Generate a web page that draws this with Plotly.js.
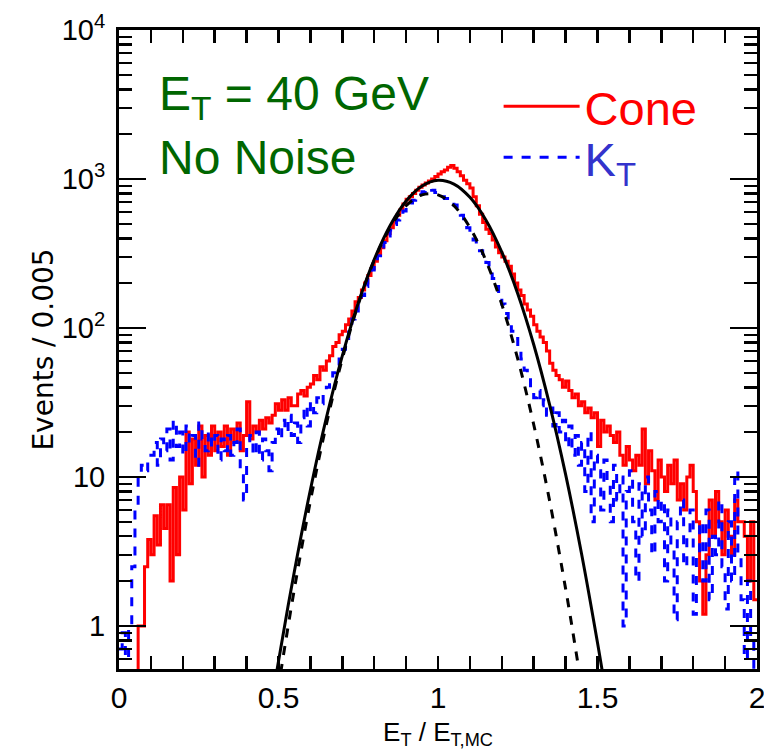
<!DOCTYPE html>
<html>
<head>
<meta charset="utf-8">
<script src="https://cdn.plot.ly/plotly-3.0.1.min.js"></script>
<style>html,body{margin:0;padding:0;background:#fff;}#chart{width:764px;height:754px;}</style>
</head>
<body>
<div id="chart"></div>
<script>
// Histogram bins: left edges from 0 to 1.99 in steps of 0.01 (E_T / E_T,MC)
var binWidth = 0.01;
// Cone algorithm (red) events per bin
var coneCounts = [
0.1,0.1,0.1,0.1,0.1,0.1,1.0,1.0,2.5,3.8,
3.0,5.5,3.5,6.5,4.5,6.5,2.0,8.5,3.0,10,
6,20,9,18,12,22,10,19,14,22,
15,20,16,22,14,21,17,23,15,19,
32,18,22,20,24,21,25,23,26,31,
28,33,28,34,30,30,36,38,35,40,
42,48,45,55,52,60,65,75,80,90,
95,105,115,130,150,160,180,200,225,250,
280,315,345,385,430,470,520,570,620,680,
730,760,800,840,880,910,940,970,1000,1040,
1080,1120,1150,1200,1230,1180,1120,1050,980,930,
870,760,660,580,510,460,430,390,350,320,
300,280,260,230,200,180,165,145,132,120,
105,95,87,80,70,58,52,48,45,40,
44,38,34,36,30,32,27,29,25,27,
16,24,20,22,19,17,20,14,12,16,
13,11,14,12,21,9,15,11,7,13,
10,8,12,9,13,7,9,6,10,12,
8,5,2,1.2,3,7,4,8,5,3,
6,4,3,7,5,5,4,2,5,1.5
];
// Kt algorithm (blue) events per bin
var ktCounts = [
0.7,0.9,0.6,1.0,2.5,6,10,12,11,13,
14,17,12,18,15,21,13,24,16,20,
14,22,17,19,12,23,18,15,20,16,
19,13,18,15,19,14,17,21,11,7,
16,19,14,20,13,18,15,11,17,21,
18,24,20,26,19,23,17,25,30,22,
32,27,34,31,36,40,45,50,56,62,
72,85,100,115,130,145,165,190,215,245,
275,305,340,375,415,455,495,530,570,610,
650,690,720,760,790,820,850,860,840,810,
790,760,740,720,700,670,620,570,520,470,
420,390,360,330,300,275,250,215,190,165,
145,125,110,95,85,75,62,52,45,40,
34,38,30,33,26,29,22,27,20,24,
16,22,14,19,12,17,8,20,5,14,
11,6,13,9,5,12,7,10,1.0,8,
11,5,2,9,4,10,6,3,8,5,
7,2,6,3.5,1.1,5,7,2.5,4,6,
1.2,3,5,2,6,1.5,4,3,7,2.5,
1.3,5,2,11,3,1.5,0.6,2,0.8,0.5
];
// Fit curves
var fitConeX = [0.48,0.50,0.55,0.60,0.65,0.70,0.75,0.80,0.85,0.90,0.95,1.00,1.05,1.10,1.15,1.20,1.25,1.30,1.35,1.40,1.45,1.50,1.53];
var fitConeY = [0.317,0.58,2.34,8.2,24.9,65,147,288,487,711,897,980,924,753,531,323,170,77.5,30.5,10.4,3.05,0.77,0.317];
var fitKtX = [0.49,0.50,0.52,0.55,0.60,0.65,0.70,0.75,0.80,0.85,0.90,0.95,1.00,1.05,1.10,1.15,1.20,1.25,1.30,1.35,1.40,1.42,1.45,1.46];
var fitKtY = [0.28,0.39,0.73,1.78,6.9,22.5,62,144,284,472,661,783,783,661,472,284,144,62,22.5,6.9,1.78,0.99,0.39,0.28];

var xTickVals = [0, 0.5, 1, 1.5, 2];
var xTickText = ['0', '0.5', '1', '1.5', '2'];
var yTickVals = [1, 10, 100, 1000, 10000];
var yTickText = ['1', '10', '10<sup>2</sup>', '10<sup>3</sup>', '10<sup>4</sup>'];

function stepX(counts) {
  var xs = [];
  for (var i = 0; i <= counts.length; i++) xs.push(+(i * binWidth).toFixed(4));
  return xs;
}
function stepY(counts) {
  return counts.concat([counts[counts.length - 1]]);
}

var FONT = 'Liberation Sans, Arial, Helvetica, sans-serif';

var traces = [
  {x: stepX(coneCounts), y: stepY(coneCounts), type: 'scatter', mode: 'lines',
   line: {shape: 'hv', color: '#ff0000', width: 3}, name: '<span style="color:#ff0000">Cone</span>',
   legend: 'legend'},
  {x: stepX(ktCounts), y: stepY(ktCounts), type: 'scatter', mode: 'lines',
   line: {shape: 'hv', color: '#0000ff', width: 3, dash: 'dash'}, name: '<span style="color:#3333cc">K<sub>T</sub></span>',
   legend: 'legend2'},
  {x: fitConeX, y: fitConeY, type: 'scatter', mode: 'lines',
   line: {shape: 'spline', color: '#000000', width: 3}, showlegend: false},
  {x: fitKtX, y: fitKtY, type: 'scatter', mode: 'lines',
   line: {shape: 'spline', color: '#000000', width: 3, dash: 'dash'}, showlegend: false}
];

var legendCommon = {
  xanchor: 'left', yanchor: 'middle',
  bgcolor: 'rgba(0,0,0,0)', borderwidth: 0,
  font: {family: FONT, size: 47},
  itemwidth: 76, tracegroupgap: 0
};

var layout = {
  width: 764, height: 754,
  margin: {l: 119, r: 7, t: 30, b: 85},
  paper_bgcolor: '#ffffff', plot_bgcolor: '#ffffff',
  font: {family: FONT, color: '#000000'},
  showlegend: true,
  legend: Object.assign({x: 0.595, y: 0.88}, legendCommon),
  legend2: Object.assign({x: 0.595, y: 0.80}, legendCommon),
  xaxis: {
    range: [0, 2], showgrid: false, zeroline: false,
    showline: true, linecolor: '#000', linewidth: 3, mirror: 'ticks',
    ticks: 'inside', ticklen: 13, tickwidth: 2.5, tickcolor: '#000',
    tickvals: xTickVals, ticktext: xTickText,
    tickfont: {family: FONT, size: 30},
    ticklabeloverflow: 'allow',
    minor: {dtick: 0.1, ticks: 'inside', ticklen: 13, tickwidth: 2.5, tickcolor: '#000', showgrid: false},
    title: {text: 'E<sub>T</sub> / E<sub>T,MC</sub>', font: {family: FONT, size: 26}, standoff: 10}
  },
  yaxis: {
    type: 'log', range: [-0.289, 4], showgrid: false, zeroline: false,
    showline: true, linecolor: '#000', linewidth: 3, mirror: 'ticks',
    ticks: 'inside', ticklen: 27, tickwidth: 2.5, tickcolor: '#000',
    tickvals: yTickVals, ticktext: yTickText,
    tickfont: {family: FONT, size: 29},
    ticklabelstandoff: 5,
    minor: {dtick: 'D1', ticks: 'inside', ticklen: 13, tickwidth: 2.5, tickcolor: '#000', showgrid: false},
    title: {text: 'Events / 0.005', font: {family: 'DejaVu Sans, sans-serif', size: 28}, standoff: 0}
  },
  annotations: [
    {xref: 'paper', yref: 'paper', x: 0.06, y: 0.895, xanchor: 'left', yanchor: 'middle',
     text: 'E<sub>T</sub> = 40 GeV', showarrow: false, font: {family: FONT, size: 48, color: '#006600'}},
    {xref: 'paper', yref: 'paper', x: 0.06, y: 0.80, xanchor: 'left', yanchor: 'middle',
     text: 'No Noise', showarrow: false, font: {family: FONT, size: 48, color: '#006600'}}
  ]
};

Plotly.newPlot('chart', traces, layout, {displayModeBar: false, staticPlot: true});
</script>
</body>
</html>
